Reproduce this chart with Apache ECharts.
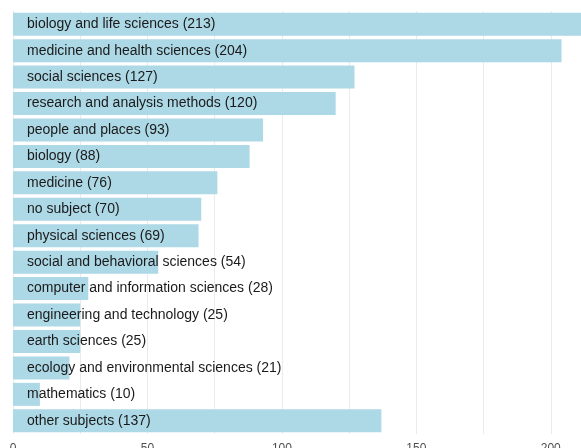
<!DOCTYPE html>
<html>
<head>
<meta charset="utf-8">
<script src="https://cdn.jsdelivr.net/npm/echarts@6/dist/echarts.min.js"></script>
<style>
  html, body { margin: 0; padding: 0; background: #fff; }
  #chart { width: 581px; height: 448px; }
</style>
</head>
<body>
<div id="chart"></div>
<script>
let subjects = [
  'biology and life sciences',
  'medicine and health sciences',
  'social sciences',
  'research and analysis methods',
  'people and places',
  'biology',
  'medicine',
  'no subject',
  'physical sciences',
  'social and behavioral sciences',
  'computer and information sciences',
  'engineering and technology',
  'earth sciences',
  'ecology and environmental sciences',
  'mathematics',
  'other subjects'
];
let counts = [213, 204, 127, 120, 93, 88, 76, 70, 69, 54, 28, 25, 25, 21, 10, 137];
let tickValues = [0, 50, 100, 150, 200];

let option = {
  backgroundColor: '#fff',
  animation: false,
  grid: {
    left: 13,
    top: 11,
    width: 605,
    height: 423,
    outerBoundsMode: 'none'
  },
  xAxis: {
    type: 'value',
    min: 0,
    max: 225,
    interval: 25,
    axisLine: { show: false },
    axisTick: { show: false },
    splitLine: {
      show: true,
      lineStyle: { color: '#ebebeb', width: 1 }
    },
    axisLabel: {
      color: '#4d4d4d',
      fontFamily: 'Liberation Sans',
      fontSize: 12,
      margin: 9,
      formatter: function (v) {
        return tickValues.indexOf(v) >= 0 ? String(v) : '';
      }
    }
  },
  yAxis: {
    type: 'category',
    inverse: true,
    data: subjects,
    axisLine: { show: false },
    axisTick: { show: false },
    axisLabel: { show: false },
    splitLine: { show: false }
  },
  series: [
    {
      type: 'bar',
      data: counts,
      barCategoryGap: '13%',
      itemStyle: { color: '#add8e6' },
      label: {
        show: true,
        position: 'insideLeft',
        distance: 14,
        color: '#1a1a1a',
        fontFamily: 'Liberation Sans',
        fontSize: 14,
        formatter: function (p) {
          return p.name + ' (' + p.value + ')';
        }
      }
    }
  ]
};

let myChart = echarts.init(document.getElementById('chart'));
myChart.setOption(option);
</script>
</body>
</html>
